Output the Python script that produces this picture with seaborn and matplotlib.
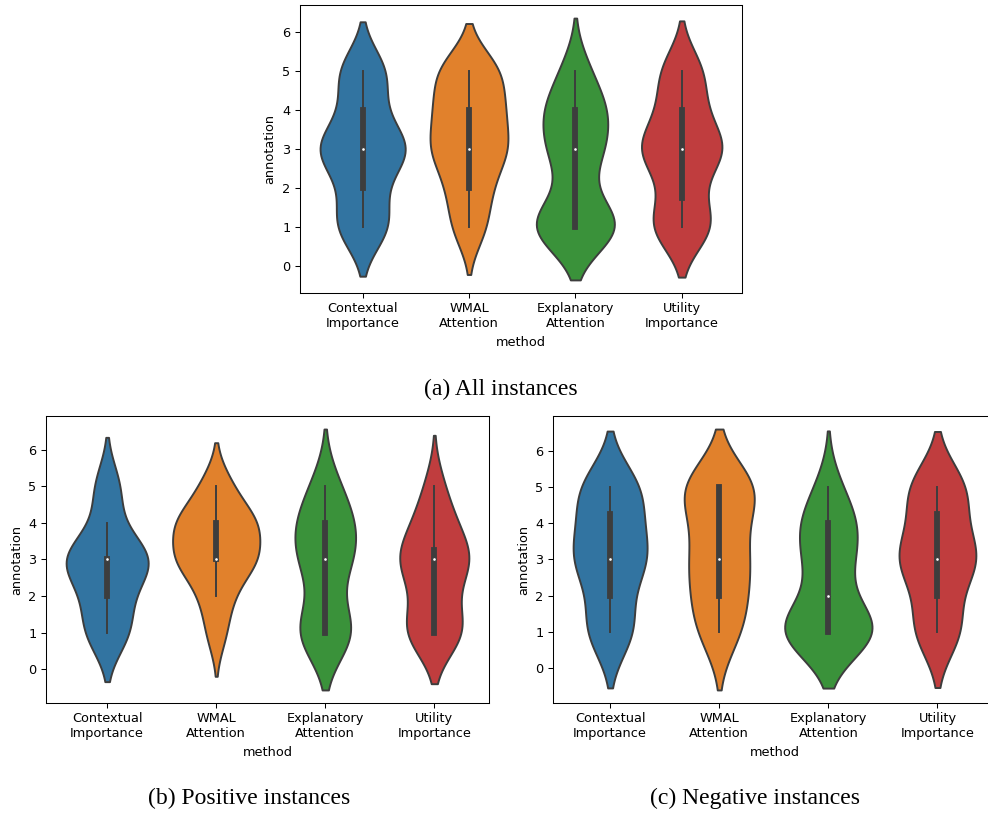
import matplotlib
matplotlib.use('Agg')
import matplotlib.pyplot as plt
import numpy as np
import pandas as pd
import seaborn as sns

# Annotation scores (1-5) counted per method
methods = ['Contextual\nImportance', 'WMAL\nAttention',
           'Explanatory\nAttention', 'Utility\nImportance']
ratings = [1, 2, 3, 4, 5]

positive_counts = {
    'Contextual\nImportance': [5, 4, 10, 2, 3],
    'WMAL\nAttention': [2, 3, 8, 8, 3],
    'Explanatory\nAttention': [8, 1, 6, 6, 3],
    'Utility\nImportance': [7, 3, 8, 4, 2],
}
negative_counts = {
    'Contextual\nImportance': [5, 2, 7, 4, 6],
    'WMAL\nAttention': [4, 4, 5, 3, 8],
    'Explanatory\nAttention': [11, 2, 4, 5, 2],
    'Utility\nImportance': [5, 2, 8, 3, 6],
}

captions = ['(a) All instances', '(b) Positive instances', '(c) Negative instances']

GRAY = '#3d3d3d'
LW = 1.4

plt.rcParams['font.size'] = 9.3
plt.rcParams['axes.linewidth'] = 0.75
plt.rcParams['xtick.major.size'] = 3.3
plt.rcParams['ytick.major.size'] = 3.3
plt.rcParams['xtick.major.width'] = 0.75
plt.rcParams['ytick.major.width'] = 0.75


def to_frame(counts):
    rows = []
    for m in methods:
        for r, c in zip(ratings, counts[m]):
            rows += [(m, r)] * c
    return pd.DataFrame(rows, columns=['method', 'annotation'])


df_pos = to_frame(positive_counts)
df_neg = to_frame(negative_counts)
df_all = pd.concat([df_pos, df_neg], ignore_index=True)


def draw_violins(ax, df):
    sns.violinplot(data=df, x='method', y='annotation', hue='method',
                   order=methods, hue_order=methods, palette='tab10',
                   saturation=0.75, inner=None, linewidth=LW, linecolor=GRAY,
                   density_norm='area', common_norm=True, cut=2,
                   width=0.8, legend=False, ax=ax)
    # old-style inner box: whisker, thick IQR bar, white median dot
    for i, m in enumerate(methods):
        obs = df.loc[df['method'] == m, 'annotation'].to_numpy(float)
        q1, q2, q3 = np.percentile(obs, [25, 50, 75])
        lim = 1.5 * (q3 - q1)
        lo = obs[obs >= q1 - lim].min()
        hi = obs[obs <= q3 + lim].max()
        ax.plot([i, i], [lo, hi], color=GRAY, linewidth=LW)
        ax.plot([i, i], [q1, q3], color=GRAY, linewidth=LW * 3,
                solid_capstyle='projecting')
        ax.scatter(i, q2, s=8, color='white', edgecolor=GRAY,
                   linewidth=0.9, zorder=3)
    ax.set_yticks(range(0, 7))
    ax.set_xlabel('method')
    ax.set_ylabel('annotation')


W, H = 988, 813
fig = plt.figure(figsize=(W / 100, H / 100), dpi=100)

ax_a = fig.add_axes([300 / W, 1 - 293 / H, 442 / W, 288 / H])
ax_b = fig.add_axes([46 / W, 1 - 703 / H, 443 / W, 287 / H])
ax_c = fig.add_axes([553 / W, 1 - 703 / H, 443 / W, 287 / H])

draw_violins(ax_a, df_all)
draw_violins(ax_b, df_pos)
draw_violins(ax_c, df_neg)

cap_kw = dict(ha='center', va='baseline', fontsize=17,
              family=['Liberation Serif', 'DejaVu Serif'])
fig.text(501 / W, 1 - 395 / H, captions[0], **cap_kw)
fig.text(249 / W, 1 - 804 / H, captions[1], **cap_kw)
fig.text(755 / W, 1 - 804 / H, captions[2], **cap_kw)

fig.savefig('out.png', dpi=100)
